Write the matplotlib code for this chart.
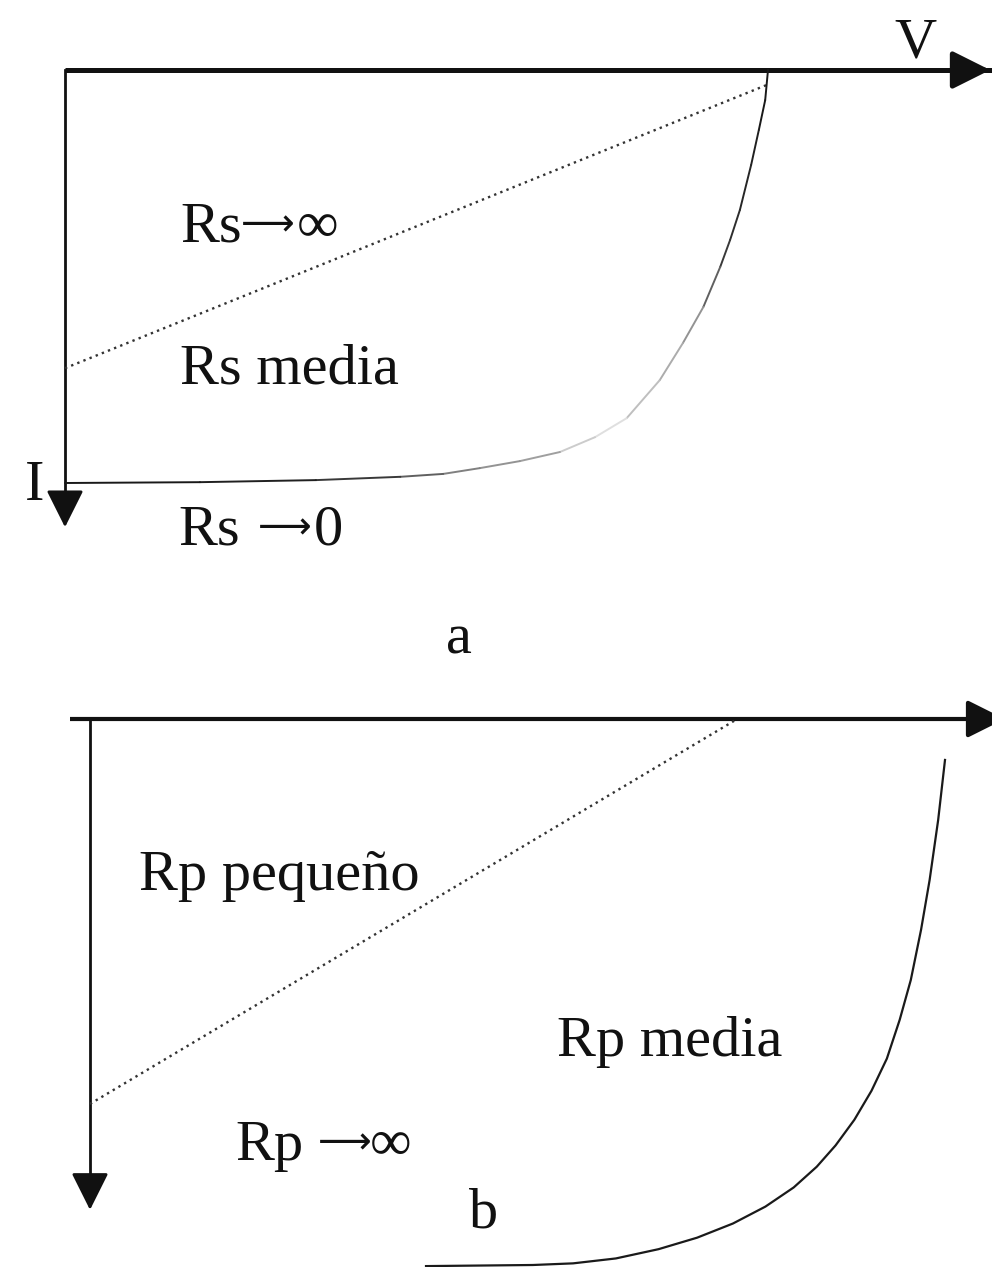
import matplotlib
matplotlib.use("Agg")
import matplotlib.pyplot as plt
from matplotlib.collections import LineCollection
from matplotlib.transforms import offset_copy
import numpy as np

# I-V curves of a solar cell, normalised: V in units of Voc, I in units of Isc
# (a) effect of the series resistance Rs
rs_line_v = [0.0, 1.0]
rs_line_i = [0.722, 0.035]
rs_curve_v = [1.0, 0.996, 0.987, 0.976, 0.960, 0.946, 0.932, 0.908, 0.879, 0.846,
              0.799, 0.754, 0.704, 0.647, 0.590, 0.538, 0.477, 0.357, 0.192, 0.0]
rs_curve_i = [0.0, 0.073, 0.145, 0.230, 0.339, 0.412, 0.477, 0.574, 0.661, 0.751,
              0.843, 0.889, 0.925, 0.947, 0.964, 0.978, 0.985, 0.993, 0.998, 1.0]
rs_labels = [("Rs", "\u27f6", "\u221e"), ("Rs media",), ("Rs", "\u27f6", "0")]

# (b) effect of the parallel resistance Rp
rp_line_v = [0.0, 0.757]
rp_line_i = [0.705, 0.0]
rp_curve_v = [1.0, 0.992, 0.982, 0.972, 0.960, 0.947, 0.932, 0.914, 0.894, 0.872,
              0.850, 0.823, 0.790, 0.752, 0.710, 0.665, 0.615, 0.565, 0.518, 0.393]
rp_curve_i = [0.075, 0.185, 0.295, 0.386, 0.478, 0.551, 0.622, 0.681, 0.734, 0.781,
              0.820, 0.858, 0.893, 0.924, 0.950, 0.971, 0.988, 0.997, 1.0, 1.002]
rp_labels = [("Rp peque\u00f1o",), ("Rp media",), ("Rp", "\u27f6", "\u221e")]

# how dark the printed curve (a) is along its length (the print is faded)
shade_a = [0.9, 0.9, 0.9, 0.85, 0.85, 0.8, 0.75, 0.5, 0.35, 0.3,
           0.2, 0.05, 0.35, 0.4, 0.45, 0.55, 0.7, 0.85, 0.9, 0.9]

SERIF = ["Liberation Serif", "DejaVu Serif"]
ARROWFONT = ["DejaVu Sans"]
FS = 42
INK = "#111111"

W, H = 992, 1267
fig = plt.figure(figsize=(W / 100, H / 100), dpi=100)
fig.patch.set_facecolor("white")


def arrow(ax, start, end, lw):
    ax.annotate("", xy=end, xytext=start,
                arrowprops=dict(arrowstyle="-|>,head_length=0.8,head_width=0.4",
                                mutation_scale=29, lw=lw, color=INK,
                                shrinkA=0, shrinkB=0),
                annotation_clip=False)


def label(ax, xs, y, parts, ha="left"):
    # a label may be split in pieces so the arrow sign can use its own font
    raised = offset_copy(ax.transData, fig=fig, y=4.5, units="points")
    for x, s in zip(xs, parts):
        if s == "\u27f6":
            ax.text(x, y, s, ha=ha, va="baseline", fontsize=27, family=ARROWFONT,
                    color=INK, clip_on=False, transform=raised)
        else:
            ax.text(x, y, s, ha=ha, va="baseline", fontsize=FS, family=SERIF,
                    color=INK, clip_on=False)


# ---- panel a ----
axa = fig.add_axes([65 / W, 1 - 483 / H, 703 / W, 413 / H])
axa.set_xlim(0, 1)
axa.set_ylim(1, 0)
axa.axis("off")

axa.plot([0, 1.32], [0, 0], color=INK, lw=3.6, clip_on=False, solid_capstyle="butt")
arrow(axa, (1.28, 0), (1.316, 0), 3.6)
axa.plot([0, 0], [0, 1.08], color=INK, lw=2.0, clip_on=False)
arrow(axa, (0, 1.05), (0, 1.107), 2.0)

axa.plot(rs_line_v, rs_line_i, color="#333333", lw=1.7, ls=(0, (1, 1.8)),
         clip_on=False)

pts = np.column_stack([rs_curve_v, rs_curve_i])
segs = np.stack([pts[:-1], pts[1:]], axis=1)
seg_shade = [(a + b) / 2 for a, b in zip(shade_a[:-1], shade_a[1:])]
colors = [(1 - s, 1 - s, 1 - s) for s in seg_shade]
axa.add_collection(LineCollection(segs, colors=colors, linewidths=1.4,
                                  capstyle="round", clip_on=False))

label(axa, [0.164, 0.250, 0.330], 0.416, rs_labels[0])
label(axa, [0.164], 0.758, rs_labels[1])
label(axa, [0.161, 0.275, 0.354], 1.150, rs_labels[2])
label(axa, [1.210], -0.031, ("V",), ha="center")
label(axa, [-0.044], 1.041, ("I",), ha="center")
label(axa, [0.560], 1.412, ("a",), ha="center")

# ---- panel b ----
axb = fig.add_axes([90 / W, 1 - 1265 / H, 855 / W, 546 / H])
axb.set_xlim(0, 1)
axb.set_ylim(1, 0)
axb.axis("off")

axb.plot([-0.023, 1.07], [0, 0], color=INK, lw=3.0, clip_on=False, solid_capstyle="butt")
arrow(axb, (1.03, 0), (1.07, 0), 3.0)
axb.plot([0, 0], [0, 0.87], color=INK, lw=2.0, clip_on=False)
arrow(axb, (0, 0.85), (0, 0.899), 2.0)

axb.plot(rp_line_v, rp_line_i, color="#333333", lw=1.7, ls=(0, (1, 1.8)),
         clip_on=False)
axb.plot(rp_curve_v, rp_curve_i, color="#1a1a1a", lw=1.6, clip_on=False,
         solid_joinstyle="round")

label(axb, [0.057], 0.313, rp_labels[0])
label(axb, [0.546], 0.617, rp_labels[1])
label(axb, [0.170, 0.267, 0.327], 0.808, rp_labels[2])
label(axb, [0.460], 0.932, ("b",), ha="center")

fig.savefig("out.png", dpi=100, facecolor="white")
